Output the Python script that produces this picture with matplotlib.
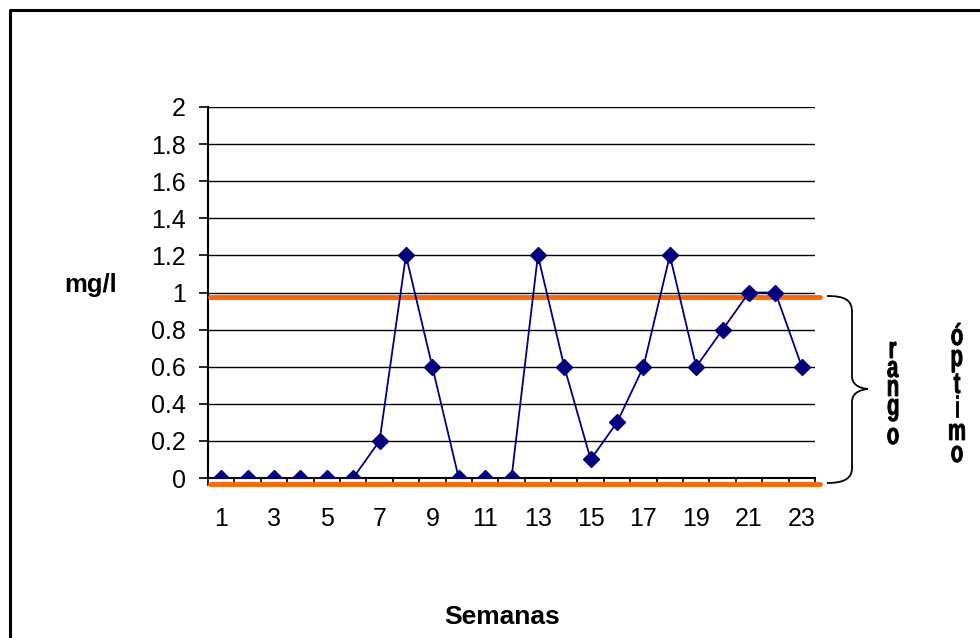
import matplotlib.pyplot as plt
from matplotlib.path import Path
from matplotlib.patches import PathPatch
from matplotlib.lines import Line2D
from matplotlib.textpath import TextPath
from matplotlib.font_manager import FontProperties
from matplotlib.transforms import Affine2D, IdentityTransform

plt.rcParams['font.family'] = ['Liberation Sans', 'DejaVu Sans']

# --- Données ---
semanas = list(range(1, 24))
valores = [0, 0, 0, 0, 0, 0, 0.2, 1.2, 0.6, 0, 0, 0, 1.2, 0.6, 0.1,
           0.3, 0.6, 1.2, 0.6, 0.8, 1, 1, 0.6]
etiquetas_x = [str(s) for s in semanas[::2]]
etiquetas_y = ['0', '0.2', '0.4', '0.6', '0.8', '1', '1.2', '1.4', '1.6', '1.8', '2']
limite_sup = 0.975   # ligne orange haute (rango óptimo)
limite_inf = -0.03   # ligne orange basse

W, H = 980, 638
fig = plt.figure(figsize=(W / 100, H / 100), dpi=100)

def fx(x):
    return x / W

def fy(y):
    return 1 - y / H

ax = fig.add_axes([fx(208), fy(478), fx(815) - fx(208), fy(107) - fy(478)])

ax.plot(semanas, valores, color='#000080', linewidth=1.3, marker='D',
        markersize=8, markerfacecolor='#000080', markeredgecolor='#000080', zorder=5)

# lignes orange du rango óptimo
for yv in (limite_sup, limite_inf):
    ax.plot([0.57, 23.68], [yv, yv], color='#FF6600', linewidth=3.5,
            solid_capstyle='round', clip_on=False, zorder=4)

ax.set_xlim(0.5, 23.5)
ax.set_ylim(0, 2)
ax.set_yticks([i * 0.2 for i in range(11)])
ax.set_yticklabels(etiquetas_y)
ax.yaxis.grid(True, color='black', linewidth=1)
ax.set_axisbelow(True)

ax.set_xticks([i + 0.5 for i in range(24)])
ax.set_xticklabels([])
ax.set_xticks(semanas[::2], minor=True)
ax.set_xticklabels(etiquetas_x, minor=True)
ax.tick_params(axis='x', which='major', direction='out', length=6, width=1.2)
ax.tick_params(axis='x', which='minor', length=0, pad=21, labelsize=18)
ax.tick_params(axis='y', direction='out', length=6.5, width=1.2, pad=9.5, labelsize=18)

for s in ('top', 'right'):
    ax.spines[s].set_visible(False)
for s in ('left', 'bottom'):
    ax.spines[s].set_linewidth(1.5)

fig.text(fx(91), fy(285), 'mg/l', fontsize=18.5, fontweight='bold', ha='center', va='center')
fig.text(fx(502), fy(617), 'Semanas', fontsize=19, fontweight='bold', ha='center', va='center')

# cadre extérieur
fig.add_artist(Line2D([fx(10), fx(10), fx(980)], [fy(640), fy(10), fy(10)],
                      color='black', linewidth=2.2))

# accolade
verts = [
    (827, 296), (845, 296), (852, 300), (852, 312),
    (852, 376),
    (852, 384), (858, 388), (868, 389),
    (858, 390), (852, 394), (852, 402),
    (852, 468),
    (852, 478), (845, 483), (827, 483),
]
codes = [Path.MOVETO, Path.CURVE4, Path.CURVE4, Path.CURVE4,
         Path.LINETO,
         Path.CURVE4, Path.CURVE4, Path.CURVE4,
         Path.CURVE4, Path.CURVE4, Path.CURVE4,
         Path.LINETO,
         Path.CURVE4, Path.CURVE4, Path.CURVE4]
brace = Path([(fx(x), fy(y)) for x, y in verts], codes)
fig.add_artist(PathPatch(brace, transform=fig.transFigure, facecolor='none',
                         edgecolor='black', linewidth=1.3))

# texte vertical empilé, lettres étroites et grasses
fp = FontProperties(family='Liberation Sans', weight='bold')

def lettre(c, xc, yb, em=30, sx=0.68):
    tp = TextPath((0, 0), c, size=em, prop=fp)
    b = tp.get_extents()
    tr = Affine2D().translate(-(b.x0 + b.x1) / 2, 0).scale(sx, 1).translate(xc, H - yb)
    fig.add_artist(PathPatch(tr.transform_path(tp), transform=IdentityTransform(),
                             facecolor='black', edgecolor='black', linewidth=0.6))

for c, yb in zip('rango', [358, 377, 396, 415, 444]):
    lettre(c, 893, yb)
for c, yb in zip('óptimo', [345, 366, 393, 417, 440, 462]):
    lettre(c, 957, yb)

fig.savefig('out.png', dpi=100)
